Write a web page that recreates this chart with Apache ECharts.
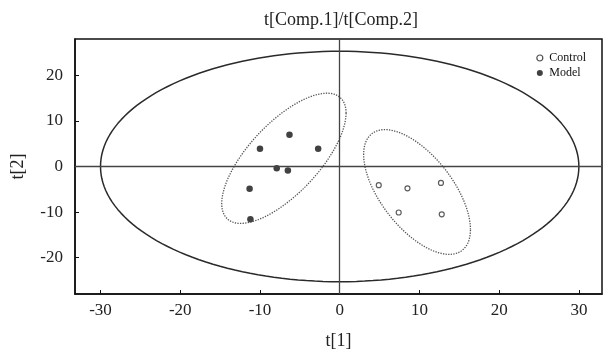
<!DOCTYPE html>
<html>
<head>
<meta charset="utf-8">
<script src="https://cdn.jsdelivr.net/npm/echarts@6/dist/echarts.min.js"></script>
<style>
  html, body { margin: 0; padding: 0; background: #fff; }
  #chart { width: 603px; height: 355px; }
</style>
</head>
<body>
<div id="chart"></div>
<script>
// tick labels
const xTicks = [-30, -20, -10, 0, 10, 20, 30];
const yTicks = [-20, -10, 0, 10, 20];

// scores: [t1, t2]
const controlPts = [[4.9, -4.1], [8.5, -4.8], [12.7, -3.6], [7.4, -10.1], [12.8, -10.5]];
const modelPts = [[-6.3, 7.0], [-10.0, 3.9], [-2.7, 3.9], [-7.9, -0.4], [-6.5, -0.9], [-11.3, -4.9], [-11.2, -11.6]];

// ellipses: [cx, cy, half-width x, half-height y, phase deg]
const hotelling = [0, 0, 30, 25.3, 90];
const modelEllipse = [-7.0, 1.8, 7.8, 14.3, 46];
const controlEllipse = [9.7, -5.6, 6.7, 13.7, 127];

function ellipse(e) {
  const [cx, cy, rx, ry, ph] = e;
  const p = ph * Math.PI / 180;
  const pts = [];
  for (let i = 0; i <= 180; i++) {
    const t = i / 180 * Math.PI * 2;
    pts.push([cx + rx * Math.cos(t), cy + ry * Math.cos(t - p)]);
  }
  return pts;
}

const font = '"Liberation Serif", "Times New Roman", serif';
const chart = echarts.init(document.getElementById('chart'));

chart.setOption({
  animation: false,
  title: {
    text: 't[Comp.1]/t[Comp.2]',
    left: 336, top: 6, textAlign: 'center',
    textStyle: { fontFamily: font, fontSize: 18, fontWeight: 'normal', color: '#222' }
  },
  legend: {
    orient: 'vertical',
    right: 12, top: 47,
    itemWidth: 9, itemHeight: 6, itemGap: 3,
    textStyle: { fontFamily: font, fontSize: 12, color: '#111' },
    data: [
      { name: 'Control', icon: 'circle', itemStyle: { color: '#fff', borderColor: '#222', borderWidth: 1.2 } },
      { name: 'Model', icon: 'circle' }
    ]
  },
  grid: {
    left: 75, right: 1, top: 39, bottom: 58,
    show: true, borderColor: '#111', borderWidth: 1.5, backgroundColor: '#fff'
  },
  xAxis: {
    type: 'value', min: -33.2, max: 32.9,
    name: 't[1]', nameLocation: 'middle', nameGap: 38,
    nameTextStyle: { fontFamily: font, fontSize: 18, color: '#222' },
    axisLine: { onZero: false, lineStyle: { color: '#111', width: 1.5 } },
    axisTick: { inside: true, length: 4, customValues: xTicks, lineStyle: { color: '#111' } },
    axisLabel: { customValues: xTicks, fontFamily: font, fontSize: 17, color: '#222', margin: 8 },
    splitLine: { show: false }
  },
  yAxis: {
    type: 'value', min: -28, max: 28,
    name: 't[2]', nameLocation: 'middle', nameGap: 48,
    nameTextStyle: { fontFamily: font, fontSize: 18, color: '#222' },
    axisLine: { onZero: false, lineStyle: { color: '#111', width: 1.5 } },
    axisTick: { inside: true, length: 4, customValues: yTicks, lineStyle: { color: '#111' } },
    axisLabel: { customValues: yTicks, fontFamily: font, fontSize: 17, color: '#222', margin: 12 },
    splitLine: { show: false }
  },
  series: [
    {
      name: 'T2', type: 'line', data: ellipse(hotelling), showSymbol: false, silent: true,
      lineStyle: { color: '#2a2a2a', width: 1.5 },
      markLine: {
        silent: true, symbol: 'none', label: { show: false },
        lineStyle: { color: '#444', width: 1.3, type: 'solid' },
        data: [{ xAxis: 0 }, { yAxis: 0 }]
      }
    },
    {
      name: 'modelEll', type: 'line', data: ellipse(modelEllipse), showSymbol: false, silent: true,
      lineStyle: { color: '#555', width: 1.3, type: 'dotted' }
    },
    {
      name: 'controlEll', type: 'line', data: ellipse(controlEllipse), showSymbol: false, silent: true,
      lineStyle: { color: '#555', width: 1.3, type: 'dotted' }
    },
    {
      name: 'Control', type: 'scatter', data: controlPts, symbolSize: 5,
      itemStyle: { color: '#fff', borderColor: '#333', borderWidth: 1.2 }
    },
    {
      name: 'Model', type: 'scatter', data: modelPts, symbolSize: 6.5,
      itemStyle: { color: '#111' }
    }
  ]
});
</script>
</body>
</html>
